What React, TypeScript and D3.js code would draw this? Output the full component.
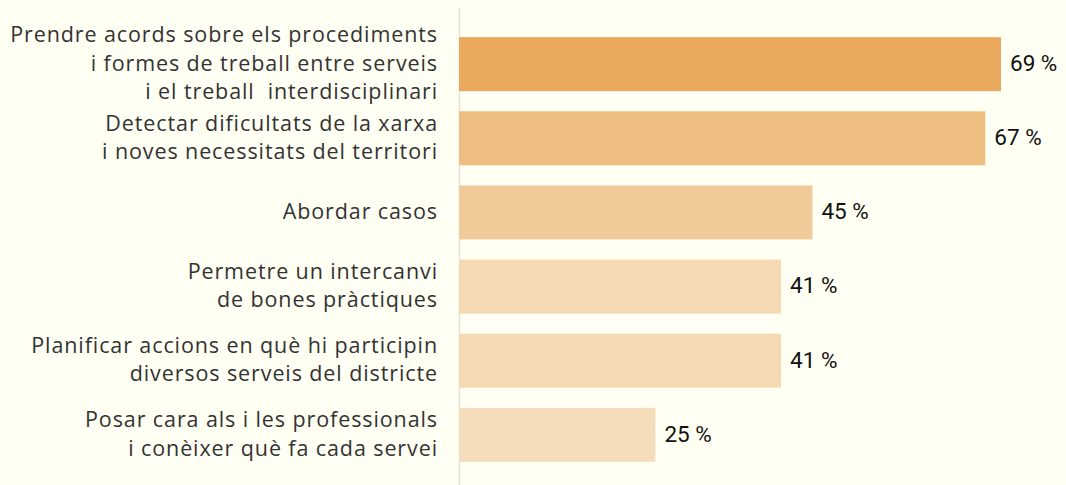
import React from "react";
import * as d3 from "d3";

const categories: string[][] = [
  ["Prendre acords sobre els procediments", "i formes de treball entre serveis", "i el treball  interdisciplinari"],
  ["Detectar dificultats de la xarxa", "i noves necessitats del territori"],
  ["Abordar casos"],
  ["Permetre un intercanvi", "de bones pràctiques"],
  ["Planificar accions en què hi participin", "diversos serveis del districte"],
  ["Posar cara als i les professionals", "i conèixer què fa cada servei"],
];
const values: number[] = [69, 67, 45, 41, 41, 25];
const colors: string[] = ["#EAA95D", "#EDBE7F", "#F0CB99", "#F4D9B2", "#F4D9B2", "#F5DDBB"];

const W = 1066;
const H = 485;
const X0 = 459;

export default function App() {
  const ids = values.map((_, i) => String(i));
  const y = d3.scaleBand<string>().domain(ids).range([17, 482]).paddingInner(0.272).paddingOuter(0.272);
  const x = d3.scaleLinear().domain([0, 69]).range([X0, 1001]);
  const lineH = 28.5;
  return (
    <svg width={W} height={H} style={{ position: "absolute", left: 0, top: 0, display: "block" }}>
      <rect x={0} y={0} width={W} height={H} fill="#FFFFF3" />
      <line x1={X0 + 0.5} x2={X0 + 0.5} y1={8} y2={H} stroke="#E2E2D6" strokeWidth={1.5} />
      {values.map((v, i) => {
        const by = y(String(i))!;
        const bw = y.bandwidth();
        const cy = by + bw / 2;
        const lines = categories[i];
        const startY = cy - ((lines.length - 1) * lineH) / 2;
        return (
          <g key={i}>
            <rect x={x(0)} y={by} width={x(v) - x(0)} height={bw} fill={colors[i]} />
            <text x={x(v) + 9} y={cy - 1} dy="0.35em" fontFamily="Roboto, sans-serif" fontSize={22.5} fill="#111">
              {`${v} %`}
            </text>
            {lines.map((l, j) => (
              <text
                key={j}
                x={438}
                y={startY + j * lineH - 1}
                dy="0.35em"
                textAnchor="end"
                fontFamily="'Open Sans', sans-serif"
                fontSize={21.5}
                letterSpacing={0.9}
                fill="#333"
                style={{ whiteSpace: "pre" }}
              >
                {l}
              </text>
            ))}
          </g>
        );
      })}
    </svg>
  );
}
